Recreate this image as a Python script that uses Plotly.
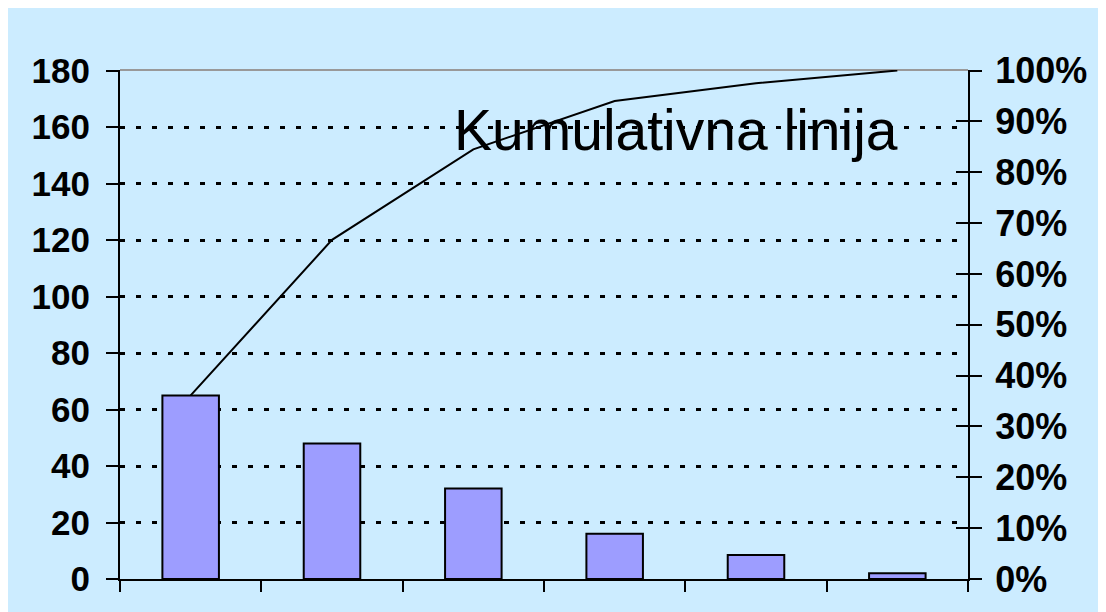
import plotly.graph_objects as go

categories = ["1", "2", "3", "4", "5", "6"]
counts = [65, 48, 32, 16, 8.5, 2]
cumulative_pct = [36.1, 66.7, 84.5, 94.0, 97.5, 100.0]
left_ticks = list(range(0, 181, 20))
right_ticks = list(range(0, 101, 10))
right_labels = [f"{v}%" for v in right_ticks]
label_text = "Kumulativna linija"

BG = "#CCECFF"
BAR = "#9D9DFF"
FONT = "Liberation Sans, Arial, sans-serif"
tickfont = dict(family=FONT, size=35, color="black", weight="bold")
tickfont_r = dict(family=FONT, size=36, color="black", weight="bold")

fig = go.Figure()
fig.add_trace(go.Bar(x=categories, y=counts, width=0.4,
                     marker=dict(color=BAR, line=dict(color="black", width=2)),
                     yaxis="y", showlegend=False))
fig.add_trace(go.Scatter(x=categories, y=cumulative_pct, mode="lines",
                         line=dict(color="black", width=2),
                         yaxis="y2", showlegend=False))
# invisible trace to anchor the cross-tick overlay axis
fig.add_trace(go.Scatter(x=categories, y=cumulative_pct, mode="lines",
                         line=dict(color="rgba(0,0,0,0)", width=0),
                         yaxis="y3", showlegend=False, hoverinfo="skip"))

fig.update_layout(
    width=1106, height=612,
    margin=dict(l=112, r=146, t=62, b=41),
    paper_bgcolor=BG, plot_bgcolor=BG,
    xaxis=dict(type="category", showticklabels=False, ticks="outside",
               tickson="boundaries", ticklen=11, tickwidth=2, tickcolor="black",
               showline=True, linecolor="black", linewidth=2, showgrid=False,
               zeroline=False, range=[-0.5, 5.5]),
    yaxis=dict(range=[0, 180.2], tickvals=left_ticks, ticks="outside", ticklen=12,
               tickwidth=2, tickcolor="black", showline=True, linecolor="black",
               linewidth=2, showgrid=True, gridcolor="black", gridwidth=3,
               griddash="5px,11px", zeroline=False, tickfont=tickfont,
               ticklabelstandoff=9),
    yaxis2=dict(range=[0, 100.1], tickvals=right_ticks, ticktext=right_labels,
                overlaying="y", side="right", ticks="outside", ticklen=12,
                tickwidth=2, tickcolor="black", showline=True, linecolor="black",
                linewidth=2, showgrid=False, zeroline=False, tickfont=tickfont_r,
                ticklabelstandoff=6),
    yaxis3=dict(range=[0, 100.1], tickvals=right_ticks, overlaying="y", side="right",
                ticks="inside", ticklen=12, tickwidth=2, tickcolor="black",
                showticklabels=False, showline=False, showgrid=False, zeroline=False),
    annotations=[dict(text=label_text, xref="paper", yref="y", x=0.656, y=159,
                      xanchor="center", yanchor="middle", showarrow=False,
                      font=dict(family=FONT, size=57, color="black"))],
    shapes=[
        dict(type="line", xref="paper", yref="paper", x0=0, x1=1, y0=1, y1=1,
             line=dict(color="#999999", width=2), layer="below"),
    ],
)

fig.write_html("out.html")
